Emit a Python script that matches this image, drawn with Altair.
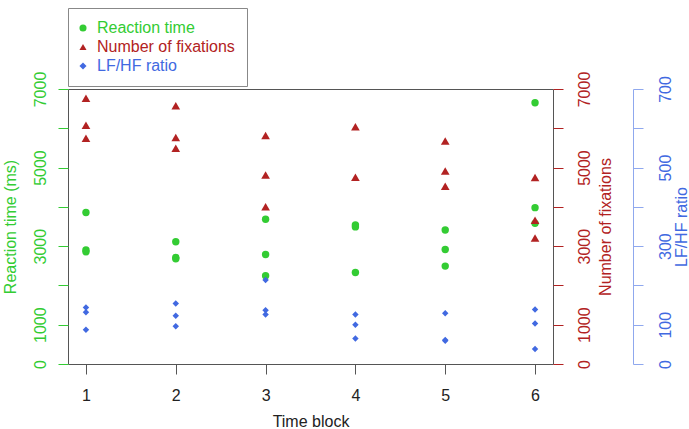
import altair as alt
import pandas as pd

# ---- data ----
series_names = ["Reaction time", "Number of fixations", "LF/HF ratio"]

rt_block = [1, 1, 1, 2, 2, 2, 3, 3, 3, 4, 4, 4, 5, 5, 5, 6, 6, 6]
reaction_time = [3856, 2900, 2855, 3110, 2712, 2678, 3686, 2788, 2246,
                 3540, 3490, 2331, 3410, 2915, 2492, 6650, 3980, 3580]

fix_block = [1, 1, 1, 2, 2, 2, 3, 3, 3, 4, 4, 5, 5, 5, 6, 6, 6]
fixations = [6763, 6076, 5746, 6576, 5763, 5492, 5814, 4814, 4000,
             6042, 4754, 5678, 4915, 4525, 4750, 3660, 3210]

lfhf_block = [1, 1, 1, 2, 2, 2, 3, 3, 3, 4, 4, 4, 5, 5, 5, 6, 6, 6]
lfhf_ratio = [144, 132, 87, 154, 123, 96, 214, 137, 126,
              126, 100, 65, 129, 61, 59, 139, 103, 38]

x_ticks = [1, 2, 3, 4, 5, 6]
rt_ticks = [0, 1000, 2000, 3000, 4000, 5000, 6000, 7000]
lf_ticks = [0, 100, 200, 300, 400, 500, 600, 700]

GREEN = "#33cc33"
RED = "#b22222"
BLUE = "#4169e1"
BLUE_AXIS = "#8fa8ee"
FONT = "Liberation Sans"

df = pd.concat([
    pd.DataFrame({"block": rt_block, "value": reaction_time, "series": series_names[0]}),
    pd.DataFrame({"block": fix_block, "value": fixations, "series": series_names[1]}),
    pd.DataFrame({"block": lfhf_block, "value": lfhf_ratio, "series": series_names[2]}),
], ignore_index=True)

x_enc = alt.X(
    "block:Q",
    scale=alt.Scale(domain=[0.8, 6.2], nice=False, zero=False),
    axis=alt.Axis(
        values=x_ticks, format="d", grid=False, domain=False,
        tickSize=10, tickColor="#555555", labelColor="#222222",
        labelFontSize=16, labelPadding=13, labelBaseline="top",
        labelFlush=False, labelOverlap=False,
        title="Time block", titleFontSize=16, titleFontWeight="normal",
        titleColor="#222222", titleBaseline="alphabetic", titleY=62.5,
    ),
)

label_color_expr = alt.ExprRef(
    "datum.label == 'Reaction time' ? '" + GREEN + "' : "
    "(datum.label == 'Number of fixations' ? '" + RED + "' : '" + BLUE + "')"
)

def make_legend():
    return alt.Legend(
        orient="none", legendX=0, legendY=-81, title=None,
        strokeColor="#888888", fillColor="white", padding=12,
        labelFontSize=16, labelFont=FONT, symbolSize=50, rowPadding=3,
        symbolOffset=-5, labelOffset=6, symbolStrokeWidth=0,
        labelColor=label_color_expr,
    )

color_enc = alt.Color(
    "series:N",
    scale=alt.Scale(domain=series_names, range=[GREEN, RED, BLUE]),
    legend=make_legend(),
)
shape_enc = alt.Shape(
    "series:N",
    scale=alt.Scale(domain=series_names, range=["circle", "triangle-up", "diamond"]),
    legend=make_legend(),
)

def hide_expr(vals):
    cond = " || ".join("datum.value == %d" % v for v in vals)
    return "(" + cond + ") ? '' : datum.label"

base = alt.Chart(df)

green = base.transform_filter(alt.datum.series == series_names[0]).mark_point(
    filled=True, size=55, opacity=1
).encode(
    x=x_enc,
    y=alt.Y("value:Q", scale=alt.Scale(domain=[0, 7000], nice=False),
            axis=alt.Axis(
                orient="left", values=rt_ticks, format="d", grid=False,
                domain=False, tickSize=10, tickColor=GREEN,
                labelExpr=hide_expr([2000, 4000, 6000]),
                labelColor=GREEN, labelFontSize=16, labelAngle=270,
                labelAlign="center", labelBaseline="alphabetic",
                labelPadding=12.5, labelFlush=False, labelOverlap=False,
                title="Reaction time (ms)", titleColor=GREEN,
                titleFontSize=16, titleFontWeight="normal", titleAngle=270,
                titleAlign="center", titleBaseline="alphabetic",
                titleX=-53, titleY=137.5,
            )),
    color=color_enc, shape=shape_enc,
)

red = base.transform_filter(alt.datum.series == series_names[1]).mark_point(
    filled=True, size=75, opacity=1
).encode(
    x=x_enc,
    y=alt.Y("value:Q", scale=alt.Scale(domain=[0, 7000], nice=False),
            axis=alt.Axis(
                orient="right", values=rt_ticks, format="d", grid=False,
                domain=False, tickSize=10, tickColor=RED,
                labelExpr=hide_expr([2000, 4000, 6000]),
                labelColor=RED, labelFontSize=16, labelAngle=270,
                labelAlign="center", labelBaseline="alphabetic",
                labelPadding=26, labelFlush=False, labelOverlap=False,
                title="Number of fixations", titleColor=RED,
                titleFontSize=16, titleFontWeight="normal", titleAngle=270,
                titleAlign="center", titleBaseline="alphabetic",
                titleX=57, titleY=137.5,
            )),
    color=color_enc, shape=shape_enc,
)

blue = base.transform_filter(alt.datum.series == series_names[2]).mark_point(
    filled=True, size=42, opacity=1
).encode(
    x=x_enc,
    y=alt.Y("value:Q", scale=alt.Scale(domain=[0, 700], nice=False),
            axis=alt.Axis(
                orient="right", offset=80, values=lf_ticks, format="d",
                grid=False, domain=True, domainColor=BLUE_AXIS,
                tickSize=10, tickColor=BLUE_AXIS,
                labelExpr=hide_expr([200, 400, 600]),
                labelColor=BLUE, labelFontSize=16, labelAngle=270,
                labelAlign="center", labelBaseline="alphabetic",
                labelPadding=27, labelFlush=False, labelOverlap=False,
                title="LF/HF ratio", titleColor=BLUE,
                titleFontSize=16, titleFontWeight="normal", titleAngle=270,
                titleAlign="center", titleBaseline="alphabetic",
                titleX=53.5, titleY=137.5,
            )),
    color=color_enc, shape=shape_enc,
)

chart = alt.layer(green, red, blue).resolve_scale(
    y="independent"
).properties(
    width=485, height=275,
    autosize=alt.AutoSizeParams(type="none"),
    padding={"left": 68, "top": 89, "right": 136, "bottom": 65},
).configure(
    font=FONT,
).configure_view(
    stroke="#555555", strokeWidth=1,
).configure_axis(
    labelFont=FONT, titleFont=FONT,
).configure_legend(
    labelFont=FONT,
)

chart.save("out.html", embed_options={"renderer": "svg", "actions": False})
